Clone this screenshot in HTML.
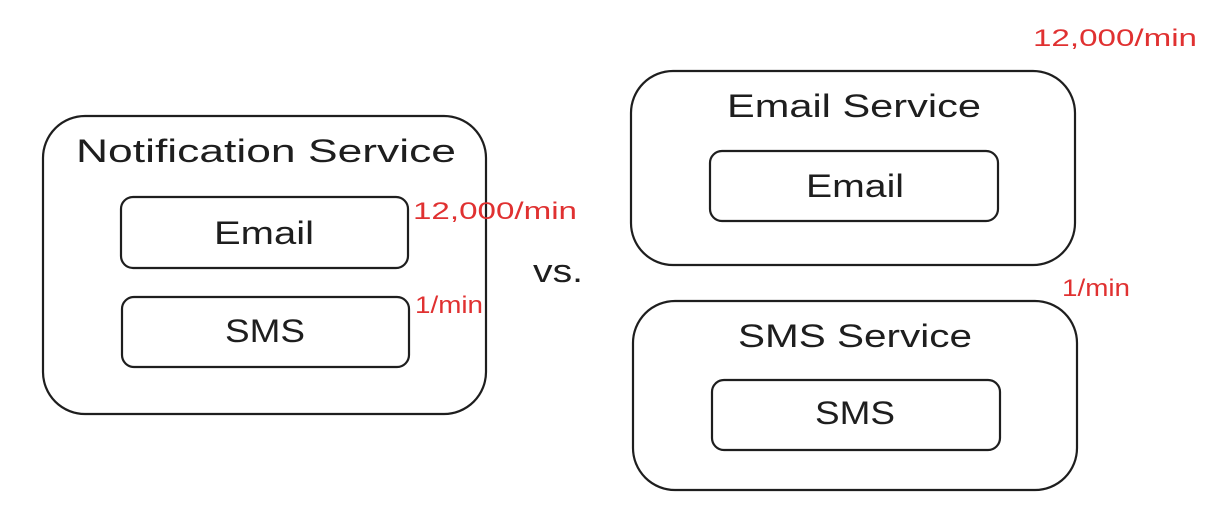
<!DOCTYPE html>
<html><head><meta charset="utf-8"><style>
html,body{margin:0;padding:0;background:#fff;}
svg{display:block}
text{font-family:"Liberation Sans",sans-serif;}
</style></head><body>
<svg width="1226" height="526" viewBox="0 0 1226 526" xmlns="http://www.w3.org/2000/svg">
<g fill="none" stroke="#1e1e1e" stroke-width="2.2">
<rect x="43" y="116" width="443" height="298" rx="42"/>
<rect x="121" y="197" width="287" height="71" rx="12"/>
<rect x="122" y="297" width="287" height="70" rx="12"/>
<rect x="631" y="71" width="444" height="194" rx="42"/>
<rect x="710" y="151" width="288" height="70" rx="12"/>
<rect x="633" y="301" width="444" height="189" rx="42"/>
<rect x="712" y="380" width="288" height="70" rx="12"/>
</g>
<g fill="#1e1e1e" font-size="32">
<text x="76" y="162" textLength="380" lengthAdjust="spacingAndGlyphs">Notification Service</text>
<text x="214" y="244" textLength="100" lengthAdjust="spacingAndGlyphs">Email</text>
<text x="225" y="342" textLength="80" lengthAdjust="spacingAndGlyphs">SMS</text>
<text x="533" y="282" textLength="50" lengthAdjust="spacingAndGlyphs">vs.</text>
<text x="727" y="117" textLength="254" lengthAdjust="spacingAndGlyphs">Email Service</text>
<text x="806" y="197" textLength="98" lengthAdjust="spacingAndGlyphs">Email</text>
<text x="738" y="347" textLength="234" lengthAdjust="spacingAndGlyphs">SMS Service</text>
<text x="815" y="424" textLength="80" lengthAdjust="spacingAndGlyphs">SMS</text>
</g>
<g fill="#e03131" font-size="24">
<text x="413" y="219" textLength="164" lengthAdjust="spacingAndGlyphs">12,000/min</text>
<text x="415" y="313" textLength="68" lengthAdjust="spacingAndGlyphs">1/min</text>
<text x="1033" y="46" textLength="164" lengthAdjust="spacingAndGlyphs">12,000/min</text>
<text x="1062" y="296" textLength="68" lengthAdjust="spacingAndGlyphs">1/min</text>
</g>
</svg>
</body></html>
